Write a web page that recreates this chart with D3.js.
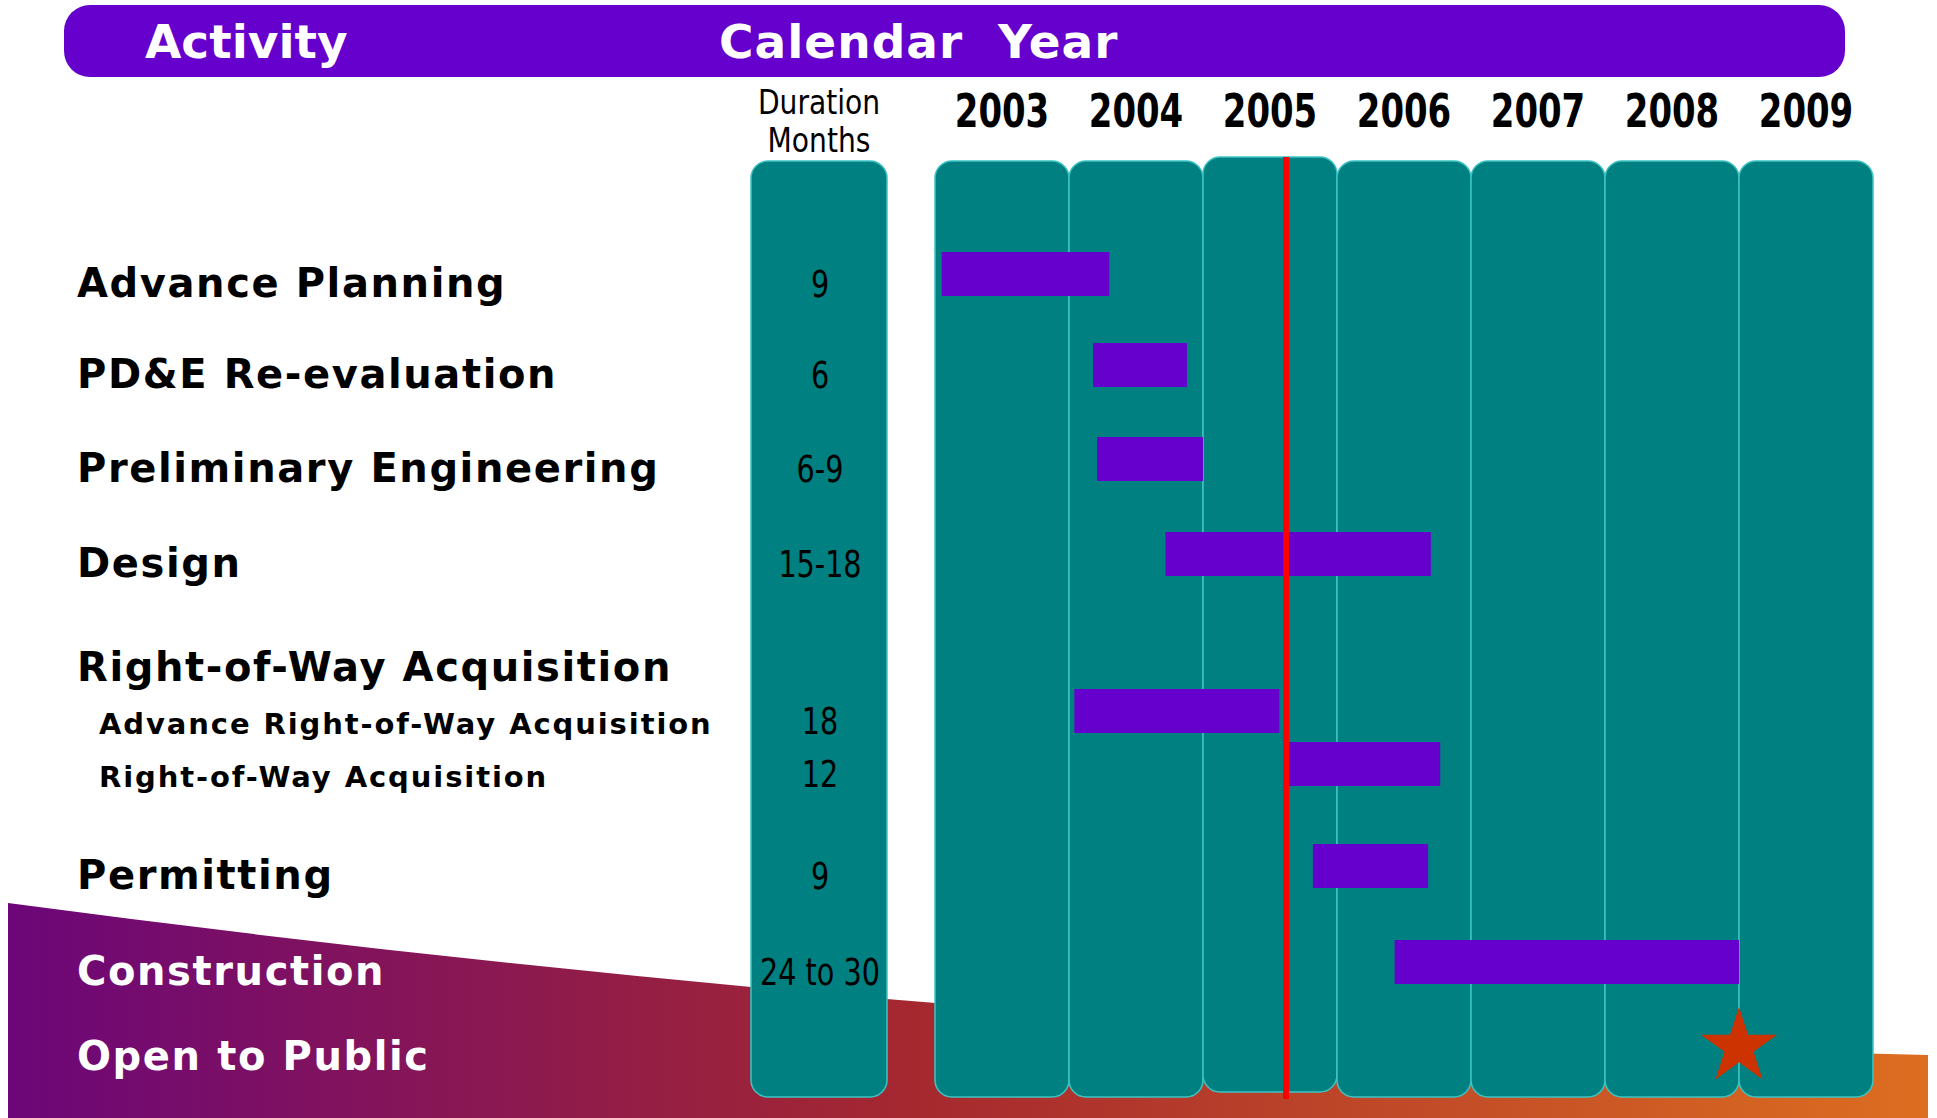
<!DOCTYPE html>
<html lang="en">
<head>
<meta charset="UTF-8">
<title>Activity / Calendar Year schedule</title>
<script src="https://d3js.org/d3.v7.min.js"></script>
<style>
    body { margin: 0; background: #fff; }
    .label { font-family: "DejaVu Sans", sans-serif; font-weight: bold; }
    .narrow { font-family: "Liberation Sans Narrow", "DejaVu Sans Condensed", sans-serif; }
</style>
</head>
<body>
<div id="chart"></div>
<script>

    // chart values
    const years = [2003, 2004, 2005, 2006, 2007, 2008, 2009];
    const activities = ["Advance Planning", "PD&E Re-evaluation", "Preliminary Engineering", "Design",
        "Right-of-Way Acquisition", "Advance Right-of-Way Acquisition", "Right-of-Way Acquisition",
        "Permitting", "Construction", "Open to Public"];
    const isSubItem = [false, false, false, false, false, true, true, false, false, false];
    const durations = ["9", "6", "6-9", "15-18", "", "18", "12", "9", "24 to 30", ""];
    const barStart = [2003.05, 2004.18, 2004.21, 2004.72, null, 2004.04, 2005.61, 2005.82, 2006.43, null];
    const barEnd = [2004.30, 2004.88, 2005.00, 2006.70, null, 2005.57, 2006.77, 2006.68, 2009.00, null];
    const openDate = 2009.0;     // star
    const statusDate = 2005.62;  // red "today" line

    const width = 1937, height = 1118;
    const rowBaselines = [297, 388, 482, 577, 681, 734, 787, 889, 985, 1070];
    const colTop = 161, colBottom = 1097;

    const svg = d3.select("#chart").append("svg")
        .attr("width", width)
        .attr("height", height);

    const x = d3.scaleLinear().domain([2003, 2010]).range([935, 1873]);
    const y = d3.scaleOrdinal().domain(d3.range(activities.length)).range(rowBaselines);

    // squeeze a text horizontally (no condensed font available offline)
    function squeeze(sel, k) {
        sel.each(function() {
            const w = this.getComputedTextLength();
            if (w > 0) {
                d3.select(this)
                    .attr("textLength", w * k)
                    .attr("lengthAdjust", "spacingAndGlyphs");
            }
        });
    }

    // background swoosh at the bottom
    const defs = svg.append("defs");
    const grad = defs.append("linearGradient").attr("id", "swoosh")
        .attr("x1", "0%").attr("x2", "100%").attr("y1", "0%").attr("y2", "0%");
    grad.append("stop").attr("offset", "0%").attr("stop-color", "#6c0679");
    grad.append("stop").attr("offset", "47%").attr("stop-color", "#a5282f");
    grad.append("stop").attr("offset", "100%").attr("stop-color", "#dd6e20");

    svg.append("path")
        .attr("d", "M8,903 Q1000,1035 1928,1055 L1928,1118 L8,1118 Z")
        .attr("fill", "url(#swoosh)");

    // header pill
    svg.append("rect")
        .attr("x", 64).attr("y", 5)
        .attr("width", 1781).attr("height", 72)
        .attr("rx", 26)
        .attr("fill", "#6600cc");

    svg.append("text").attr("class", "label")
        .attr("x", 145).attr("y", 58)
        .attr("fill", "#fff")
        .style("font-size", "47px")
        .text("Activity");

    svg.append("text").attr("class", "label")
        .attr("x", 719).attr("y", 58)
        .attr("fill", "#fff")
        .style("font-size", "47px").style("letter-spacing", "1px")
        .style("white-space", "pre")
        .text("Calendar  Year");

    // duration column
    const durX0 = 751, durX1 = 887;
    const durMid = (durX0 + durX1) / 2;
    svg.append("rect")
        .attr("x", durX0).attr("y", colTop)
        .attr("width", durX1 - durX0).attr("height", colBottom - colTop)
        .attr("rx", 17)
        .attr("fill", "#008080").attr("stroke", "#3cc3c3").attr("stroke-width", 1.5);

    svg.selectAll(".dur-head")
        .data(["Duration", "Months"])
        .enter().append("text")
        .attr("class", "dur-head narrow")
        .attr("x", durMid)
        .attr("y", (d, i) => 114 + i * 38)
        .attr("text-anchor", "middle")
        .style("font-size", "34px")
        .text(d => d)
        .call(squeeze, 0.92);

    // year columns
    svg.selectAll(".year-col")
        .data(years)
        .enter().append("rect")
        .attr("class", "year-col")
        .attr("x", d => x(d))
        .attr("y", d => (statusDate >= d && statusDate < d + 1) ? colTop - 4 : colTop)
        .attr("width", d => x(d + 1) - x(d))
        .attr("height", d => (statusDate >= d && statusDate < d + 1) ? colBottom - colTop - 1 : colBottom - colTop)
        .attr("rx", 17)
        .attr("fill", "#008080").attr("stroke", "#3cc3c3").attr("stroke-width", 1.5);

    svg.selectAll(".year-label")
        .data(years)
        .enter().append("text")
        .attr("class", "year-label narrow")
        .attr("x", d => (x(d) + x(d + 1)) / 2)
        .attr("y", 127)
        .attr("text-anchor", "middle")
        .style("font-size", "46px").style("font-weight", "bold")
        .text(d => d)
        .call(squeeze, 0.82);

    // activity labels
    const curveAtLabels = 912;
    svg.selectAll(".act-label")
        .data(activities)
        .enter().append("text")
        .attr("class", "act-label label")
        .attr("x", (d, i) => isSubItem[i] ? 99 : 77)
        .attr("y", (d, i) => y(i))
        .attr("fill", (d, i) => y(i) > curveAtLabels ? "#fff" : "#000")
        .style("font-size", (d, i) => isSubItem[i] ? "29px" : "40px")
        .style("letter-spacing", (d, i) => isSubItem[i] ? "1.9px" : "1.6px")
        .text(d => d);

    // duration numbers
    svg.selectAll(".dur")
        .data(durations)
        .enter().append("text")
        .attr("class", "dur narrow")
        .attr("x", durMid + 1)
        .attr("y", (d, i) => y(i))
        .attr("text-anchor", "middle")
        .style("font-size", "37px")
        .text(d => d)
        .call(squeeze, 0.86);

    // bars
    const barH = 44;
    const barIdx = d3.range(activities.length).filter(i => barStart[i] !== null);
    svg.selectAll(".bar")
        .data(barIdx)
        .enter().append("rect")
        .attr("class", "bar")
        .attr("x", i => x(barStart[i]))
        .attr("y", i => y(i) - 23 - barH / 2)
        .attr("width", i => x(barEnd[i]) - x(barStart[i]))
        .attr("height", barH)
        .attr("fill", "#6600cc");

    // status line
    svg.append("line")
        .attr("x1", x(statusDate)).attr("x2", x(statusDate))
        .attr("y1", colTop - 4).attr("y2", 1099)
        .attr("stroke", "#ff0000").attr("stroke-width", 6);

    // open to public star
    const openRow = activities.indexOf("Open to Public");
    svg.append("path")
        .attr("d", d3.symbol(d3.symbolStar).size(1800)())
        .attr("transform", `translate(${x(openDate)},${y(openRow) - 23})`)
        .attr("fill", "#cc3300");

</script>
</body>
</html>
